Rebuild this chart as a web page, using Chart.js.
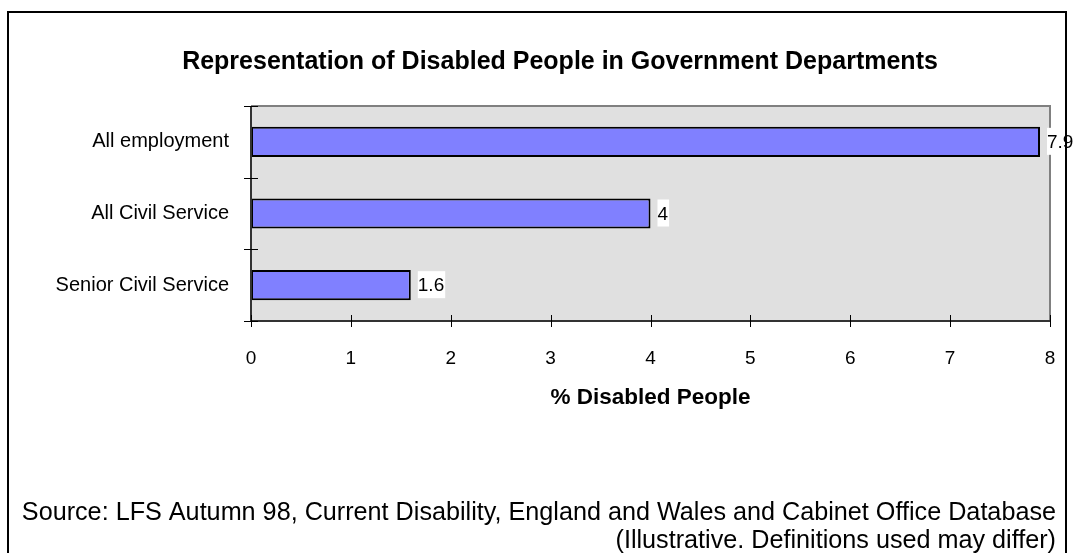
<!DOCTYPE html>
<html>
<head>
<meta charset="utf-8">
<script src="https://cdn.jsdelivr.net/npm/chart.js@4"></script>
<style>
  body { margin: 0; background: #fff; }
  canvas { display: block; }
</style>
</head>
<body>
<canvas id="chart" width="1073" height="553"></canvas>
<script>
// Chart data
const categories = ['All employment', 'All Civil Service', 'Senior Civil Service'];
const values = [7.9, 4, 1.6];
const xTicks = [0, 1, 2, 3, 4, 5, 6, 7, 8];
const titleText = 'Representation of Disabled People in Government Departments';
const axisTitle = '% Disabled People';
const sourceLines = [
    'Source: LFS Autumn 98, Current Disability, England and Wales and Cabinet Office Database',
    '(Illustrative. Definitions used may differ)'
];

const FONT = '"Liberation Sans", Arial, sans-serif';

// Background, plot area fill and frame
const framePlugin = {
    id: 'frame',
    beforeDraw(chart) {
        const { ctx, chartArea: a } = chart;
        ctx.save();
        ctx.fillStyle = '#ffffff';
        ctx.fillRect(0, 0, chart.width, chart.height);
        ctx.fillStyle = '#e0e0e0';
        ctx.fillRect(a.left, a.top, a.right - a.left, a.bottom - a.top);
        ctx.restore();
    },
    afterDatasetsDraw(chart) {
        const { ctx, chartArea: a } = chart;
        const x = chart.scales.x, y = chart.scales.y;
        ctx.save();
        // grey top/right border
        ctx.strokeStyle = '#808080';
        ctx.lineWidth = 2;
        ctx.beginPath();
        ctx.moveTo(a.left, a.top);
        ctx.lineTo(a.right, a.top);
        ctx.lineTo(a.right, a.bottom);
        ctx.stroke();
        // axes
        ctx.strokeStyle = '#333333';
        ctx.beginPath();
        ctx.moveTo(a.left, a.top);
        ctx.lineTo(a.left, a.bottom);
        ctx.lineTo(a.right, a.bottom);
        ctx.stroke();
        // cross ticks
        ctx.lineWidth = 1;
        ctx.strokeStyle = '#000000';
        ctx.beginPath();
        for (let i = 0; i <= categories.length; i++) {
            const py = Math.round(y.getPixelForValue(i - 0.5)) + 0.5;
            ctx.moveTo(a.left - 7, py);
            ctx.lineTo(a.left + 7, py);
        }
        xTicks.forEach(v => {
            const px = Math.round(x.getPixelForValue(v)) + 0.5;
            ctx.moveTo(px, a.bottom - 6);
            ctx.lineTo(px, a.bottom + 6);
        });
        ctx.stroke();

        // value labels
        ctx.font = '19px ' + FONT;
        ctx.textBaseline = 'middle';
        ctx.textAlign = 'left';
        chart.getDatasetMeta(0).data.forEach((bar, i) => {
            const txt = String(values[i]);
            const w = ctx.measureText(txt).width;
            const lx = bar.x + 7;
            ctx.fillStyle = '#ffffff';
            ctx.fillRect(lx, bar.y - 14, w + 1, 27);
            ctx.fillStyle = '#000000';
            ctx.fillText(txt, lx, bar.y + 1);
        });
        ctx.restore();
    },
    afterDraw(chart) {
        const { ctx, chartArea: a } = chart;
        ctx.save();
        ctx.fillStyle = '#000000';
        ctx.textAlign = 'center';
        ctx.textBaseline = 'middle';
        ctx.font = 'bold 25px ' + FONT;
        ctx.fillText(titleText, 560, 62);
        ctx.font = 'bold 22.5px ' + FONT;
        ctx.fillText(axisTitle, (a.left + a.right) / 2, 398);
        ctx.font = '25.2px ' + FONT;
        ctx.textAlign = 'right';
        ctx.fillText(sourceLines[0], 1056, 513);
        ctx.fillText(sourceLines[1], 1056, 541);
        // outer border
        ctx.strokeStyle = '#000000';
        ctx.lineWidth = 2;
        ctx.strokeRect(8, 12, 1058, 560);
        ctx.restore();
    }
};

new Chart(document.getElementById('chart'), {
    type: 'bar',
    data: {
        labels: categories,
        datasets: [{
            data: values,
            backgroundColor: '#8080ff',
            borderColor: '#000000',
            borderWidth: 2,
            borderSkipped: false,
            categoryPercentage: 1,
            barPercentage: 0.42
        }]
    },
    options: {
        indexAxis: 'y',
        responsive: false,
        animation: false,
        layout: { padding: { top: 106, right: 23, left: 0, bottom: 0 } },
        plugins: {
            legend: { display: false },
            tooltip: { enabled: false }
        },
        scales: {
            x: {
                min: 0,
                max: 8,
                afterFit(s) {
                    s.height = 232;
                    s.paddingLeft = 0;
                    s.paddingRight = 0;
                },
                afterBuildTicks(s) { s.ticks = xTicks.map(v => ({ value: v })); },
                grid: { display: false, drawTicks: false },
                border: { display: false },
                ticks: { color: '#000', padding: 26, font: { family: FONT, size: 19 } }
            },
            y: {
                afterFit(s) { s.width = 251; },
                grid: { display: false, drawTicks: false },
                border: { display: false },
                ticks: { color: '#000', padding: 22, font: { family: FONT, size: 20 } }
            }
        }
    },
    plugins: [framePlugin]
});
</script>
</body>
</html>
